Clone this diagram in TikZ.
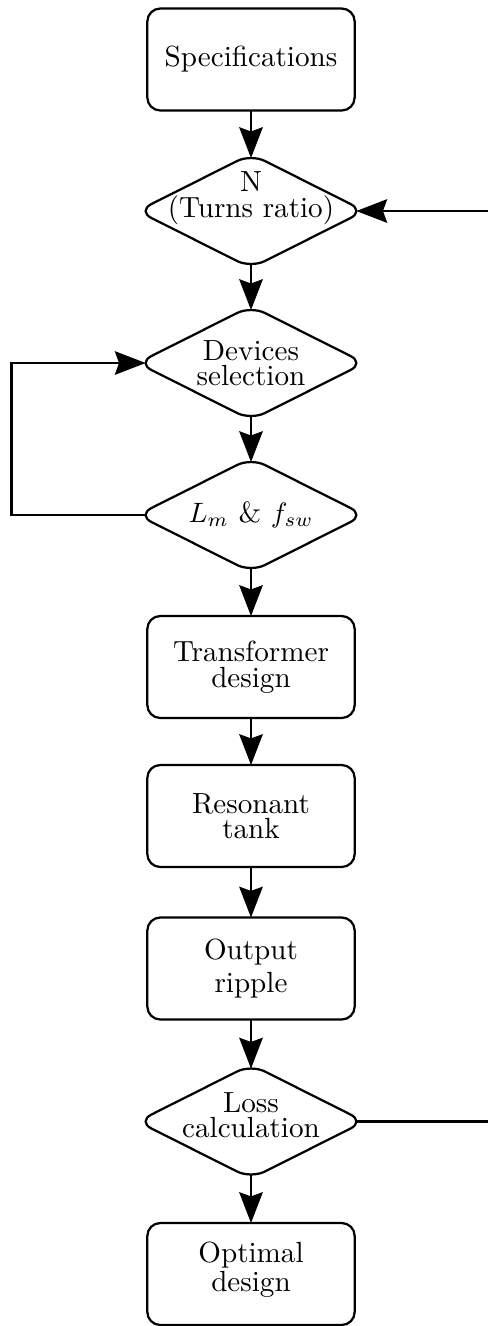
\documentclass[tikz,border=0pt]{standalone}
\usetikzlibrary{shapes.geometric,arrows.meta}
\begin{document}
\begin{tikzpicture}[x=0.357pt,y=-0.357pt,
  txt/.style={font=\fontsize{10.4}{9.1}\selectfont, align=center, inner sep=0pt},
  procbox/.style={draw, line width=0.8pt, rounded corners=4.6pt, minimum width=74pt, minimum height=36.4pt, inner sep=0pt, outer sep=0pt, txt},
  decbox/.style={draw, diamond, line width=0.8pt, rounded corners=5.5pt, minimum width=81pt, minimum height=40.7pt, inner sep=0pt, outer sep=0pt},
  flow/.style={line width=0.8pt, -{Stealth[length=11pt,width=8.4pt,inset=1.5pt]}},
  plain/.style={line width=0.8pt},
]
\useasboundingbox (0,0) rectangle (488,1326);

\node[procbox] (spec) at (251,59.5) {Specifications};
\node[decbox] (n) at (251,211) {};
\node[txt] (nt) at (251,198) {N\\(Turns ratio)};
\node[decbox] (dev) at (251,363) {};
\node[txt] (devt) at (251,363) {Devices\\selection};
\node[decbox] (lm) at (251,515) {};
\node[txt] (lmt) at (251,515) {$L_m$ \& $f_{sw}$};
\node[procbox] (tr) at (251,667) {Transformer\\design};
\node[procbox] (res) at (251,816) {Resonant\\tank};
\node[procbox, font=\fontsize{10.4}{11.8}\selectfont] (out) at (251,968.5) {Output\\ripple};
\node[decbox] (loss) at (251,1121.5) {};
\node[txt] (losst) at (251,1115) {Loss\\calculation};
\node[procbox] (opt) at (251,1274) {};
\node[txt] (optt) at (251,1270) {Optimal\\design};

\coordinate (L1) at (11.5,515);
\coordinate (L2) at (11.5,363);
\coordinate (R1) at (492,211);
\coordinate (R2) at (492,1121.5);

\draw[flow, shorten >=-1.45pt] (spec) -- (n.north);
\draw[flow, shorten <=-1.45pt, shorten >=-1.45pt] (n.south) -- (dev.north);
\draw[flow, shorten <=-1.45pt, shorten >=-1.45pt] (dev.south) -- (lm.north);
\draw[flow, shorten <=-1.45pt] (lm.south) -- (tr);
\draw[flow] (tr) -- (res);
\draw[flow] (res) -- (out);
\draw[flow, shorten >=-1.45pt] (out) -- (loss.north);
\draw[flow, shorten <=-1.45pt] (loss.south) -- (opt);
\draw[flow, shorten <=-2.9pt, shorten >=-2.9pt] (lm.west) -- (L1) -- (L2) -- (dev.west);
\draw[flow, shorten >=-2.9pt] (R1) -- (n.east);
\draw[plain, shorten <=-2.9pt] (loss.east) -- (R2);
\end{tikzpicture}
\end{document}
